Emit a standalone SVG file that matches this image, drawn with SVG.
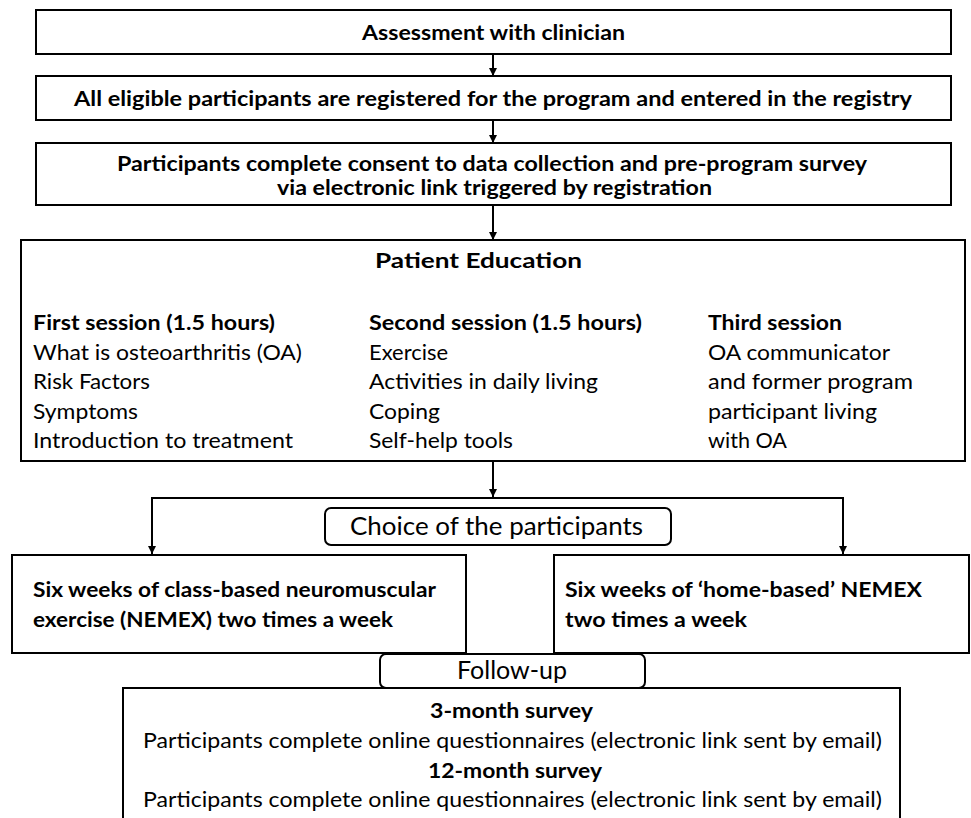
<svg xmlns="http://www.w3.org/2000/svg" width="971" height="818" viewBox="0 0 971 818">
<defs>
<style>
.box{fill:#fff;stroke:#000;stroke-width:2}
.rbox{fill:#fff;stroke:#000;stroke-width:2}
.t{font-family:Lato,"Open Sans","Liberation Sans",sans-serif;font-size:21.5px;fill:#000}
.b{font-weight:700}
.c{text-anchor:middle}
.big{font-size:25px}
.conn{fill:none;stroke:#000;stroke-width:2}
</style>
<marker id="ah" markerUnits="userSpaceOnUse" markerWidth="9" markerHeight="9" refX="8" refY="4.5" orient="auto">
<path d="M0,0.5 L8,4.5 L0,8.5 z" fill="#000"/>
</marker>
</defs>
<rect width="971" height="818" fill="#fff"/>
<g id="connectors">
<line class="conn" x1="493" y1="54" x2="493" y2="76" marker-end="url(#ah)"/>
<line class="conn" x1="493" y1="120" x2="493" y2="143" marker-end="url(#ah)"/>
<line class="conn" x1="493" y1="205" x2="493" y2="240" marker-end="url(#ah)"/>
<line class="conn" x1="493" y1="461" x2="493" y2="497" marker-end="url(#ah)"/>
<polyline class="conn" points="152,554 152,498 843,498 843,554"/>
<line class="conn" x1="152" y1="520" x2="152" y2="554" marker-end="url(#ah)"/>
<line class="conn" x1="843" y1="520" x2="843" y2="554" marker-end="url(#ah)"/>
</g>
<g id="assessment">
<rect class="box" x="36" y="10" width="915" height="44"/>
<text class="t b c" x="493.5" y="40" textLength="263" lengthAdjust="spacingAndGlyphs">Assessment with clinician</text>
</g>
<g id="registered">
<rect class="box" x="36" y="76" width="915" height="44"/>
<text class="t b c" x="493" y="106" textLength="838" lengthAdjust="spacingAndGlyphs">All eligible participants are registered for the program and entered in the registry</text>
</g>
<g id="consent">
<rect class="box" x="36" y="143" width="915" height="62"/>
<text class="t b c" x="492" y="171" textLength="750" lengthAdjust="spacingAndGlyphs">Participants complete consent to data collection and pre-program survey</text>
<text class="t b c" x="494.5" y="195" textLength="435" lengthAdjust="spacingAndGlyphs">via electronic link triggered by registration</text>
</g>
<g id="education">
<rect class="box" x="21" y="240" width="944" height="221"/>
<text class="t b c" x="478.5" y="268" textLength="207" lengthAdjust="spacingAndGlyphs">Patient Education</text>
<text class="t b" x="33" y="330" textLength="242" lengthAdjust="spacingAndGlyphs">First session (1.5 hours)</text>
<text class="t" x="33" y="359.5" textLength="269" lengthAdjust="spacingAndGlyphs">What is osteoarthritis (OA)</text>
<text class="t" x="33" y="389" textLength="117" lengthAdjust="spacingAndGlyphs">Risk Factors</text>
<text class="t" x="33" y="418.5" textLength="105" lengthAdjust="spacingAndGlyphs">Symptoms</text>
<text class="t" x="33" y="448" textLength="260" lengthAdjust="spacingAndGlyphs">Introduction to treatment</text>
<text class="t b" x="369" y="330" textLength="273" lengthAdjust="spacingAndGlyphs">Second session (1.5 hours)</text>
<text class="t" x="369" y="359.5" textLength="79" lengthAdjust="spacingAndGlyphs">Exercise</text>
<text class="t" x="369" y="389" textLength="229" lengthAdjust="spacingAndGlyphs">Activities in daily living</text>
<text class="t" x="369" y="418.5" textLength="71" lengthAdjust="spacingAndGlyphs">Coping</text>
<text class="t" x="369" y="448" textLength="144" lengthAdjust="spacingAndGlyphs">Self-help tools</text>
<text class="t b" x="708" y="330" textLength="134" lengthAdjust="spacingAndGlyphs">Third session</text>
<text class="t" x="708" y="359.5" textLength="182" lengthAdjust="spacingAndGlyphs">OA communicator</text>
<text class="t" x="708" y="389" textLength="205" lengthAdjust="spacingAndGlyphs">and former program</text>
<text class="t" x="708" y="418.5" textLength="169" lengthAdjust="spacingAndGlyphs">participant living</text>
<text class="t" x="708" y="448" textLength="79" lengthAdjust="spacingAndGlyphs">with OA</text>
</g>
<g id="choice">
<rect class="rbox" x="325" y="508" width="346" height="37" rx="6"/>
<text class="t big c" x="496.5" y="535" textLength="293" lengthAdjust="spacingAndGlyphs">Choice of the participants</text>
</g>
<g id="class-based">
<rect class="box" x="12" y="555" width="454" height="98"/>
<text class="t b" x="33" y="597" textLength="403" lengthAdjust="spacingAndGlyphs">Six weeks of class-based neuromuscular</text>
<text class="t b" x="33" y="627" textLength="360" lengthAdjust="spacingAndGlyphs">exercise (NEMEX) two times a week</text>
</g>
<g id="home-based">
<rect class="box" x="554" y="555" width="415" height="98"/>
<text class="t b" x="565" y="597" textLength="357" lengthAdjust="spacingAndGlyphs">Six weeks of ‘home-based’ NEMEX</text>
<text class="t b" x="565" y="627" textLength="182" lengthAdjust="spacingAndGlyphs">two times a week</text>
</g>
<g id="surveys">
<rect class="box" x="123" y="688" width="777" height="140"/>
<text class="t b" x="430" y="718" textLength="163" lengthAdjust="spacingAndGlyphs">3-month survey</text>
<text class="t" x="143" y="748" textLength="739" lengthAdjust="spacingAndGlyphs">Participants complete online questionnaires (electronic link sent by email)</text>
<text class="t b" x="428" y="778" textLength="174" lengthAdjust="spacingAndGlyphs">12-month survey</text>
<text class="t" x="143" y="807" textLength="739" lengthAdjust="spacingAndGlyphs">Participants complete online questionnaires (electronic link sent by email)</text>
</g>
<g id="followup">
<rect class="rbox" x="380" y="654" width="265" height="34" rx="6"/>
<text class="t big c" x="512" y="678.5" textLength="110" lengthAdjust="spacingAndGlyphs">Follow-up</text>
</g>
</svg>
